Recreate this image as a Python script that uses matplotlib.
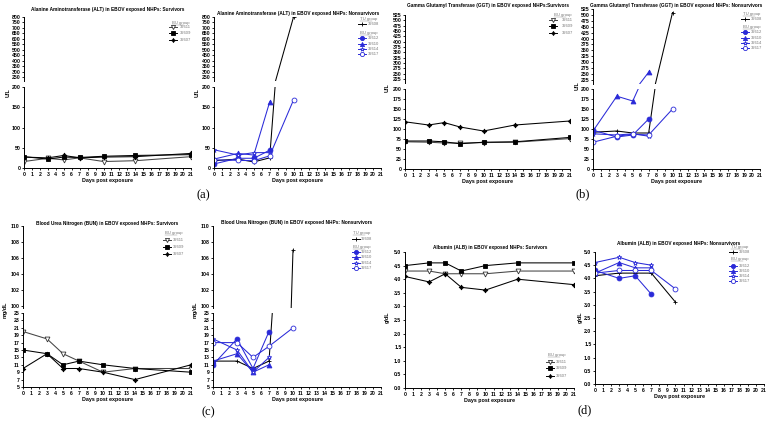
import numpy as np
import matplotlib
matplotlib.use('Agg')
import matplotlib.pyplot as plt
from matplotlib.lines import Line2D

plt.rcParams['font.family'] = ['Liberation Sans', 'DejaVu Sans']

W, H = 770, 424

days_s = [0, 3, 5, 7, 10, 14, 21]
days_n = [0, 3, 5, 7, 10]

# survivors: 32611, 32609, 32607
alt_s_32611 = [16, 24, 20, 25, 16, 18, 28]
alt_s_32609 = [28, 22, 27, 26, 29, 31, 33]
alt_s_32607 = [27, 25, 31, 25, 27, 28, 36]
ggt_s_32611 = [68, 67, 65, 65, 66, 67, 76]
ggt_s_32609 = [70, 70, 68, 63, 67, 68, 79]
ggt_s_32607 = [118, 110, 116, 105, 95, 110, 120]
bun_s_32611 = [20, 18, 14, 12, 9, 10, 10]
bun_s_32609 = [15, 14, 11, 12, 11, 10, 9]
bun_s_32607 = [10, 14, 10, 10, 9, 7, 11]
alb_s_32611 = [4.3, 4.3, 4.2, 4.2, 4.2, 4.3, 4.3]
alb_s_32609 = [4.5, 4.6, 4.6, 4.3, 4.5, 4.6, 4.6]
alb_s_32607 = [4.1, 3.9, 4.2, 3.7, 3.6, 4.0, 3.8]

# nonsurvivors: 32608 (TU), 32612, 32610, 32614, 32617 (BU)
alt_n_32608 = [18, 22, 15, 25, 800]
alt_n_32612 = [10, 24, 24, 44]
alt_n_32610 = [22, 36, 32, 163]
alt_n_32614 = [45, 32, 38, 38]
alt_n_32617 = [20, 19, 18, 30, 168]
ggt_n_32608 = [92, 95, 90, 90, 510]
ggt_n_32612 = [97, 80, 85, 125]
ggt_n_32610 = [95, 182, 170, 258]
ggt_n_32614 = [88, 85, 88, 82]
ggt_n_32617 = [67, 82, 87, 85, 150]
bun_n_32608 = [12, 12, 10, 12, 107]
bun_n_32612 = [11, 18, 10, 20]
bun_n_32610 = [12, 14, 9, 11]
bun_n_32614 = [18, 15, 9, 13]
bun_n_32617 = [17, 17, 13, 16, 21]
alb_n_32608 = [4.1, 4.2, 4.2, 4.2, 3.1]
alb_n_32612 = [4.3, 4.0, 4.1, 3.4]
alb_n_32610 = [4.2, 4.6, 4.4, 4.4]
alb_n_32614 = [4.6, 4.8, 4.6, 4.5]
alb_n_32617 = [4.2, 4.3, 4.3, 4.3, 3.6]

BLUE = '#2a2ad8'
styles = {
    '32611': dict(color='#444444', marker='v', mfc='white', mec='#333333'),
    '32609': dict(color='black', marker='s', mfc='black', mec='black'),
    '32607': dict(color='black', marker=(4, 1, 0), mfc='black', mec='black'),
    '32608': dict(color='black', marker='+', mfc='black', mec='black'),
    '32612': dict(color=BLUE, marker='o', mfc=BLUE, mec=BLUE),
    '32610': dict(color=BLUE, marker='^', mfc=BLUE, mec=BLUE),
    '32614': dict(color=BLUE, marker='*', mfc='white', mec=BLUE),
    '32617': dict(color=BLUE, marker='o', mfc='white', mec=BLUE),
}
surv_ids = ['32611', '32609', '32607']
non_ids = ['32608', '32612', '32610', '32614', '32617']

fig = plt.figure(figsize=(W / 100, H / 100), dpi=100)
fig.patch.set_facecolor('white')
FS = 3.7
MS = 3.5


def fx(x):
    return x / W


def fy(y):
    return 1 - y / H


def make_ax(l, r, t, b):
    ax = fig.add_axes([fx(l), fy(b), fx(r) - fx(l), (b - t) / H])
    for s in ['top', 'right']:
        ax.spines[s].set_visible(False)
    for s in ['left', 'bottom']:
        ax.spines[s].set_linewidth(0.7)
    ax.tick_params(labelsize=FS, width=0.6, length=1.6, pad=1)
    return ax


def draw(ax, ids, days, series):
    for sid, vals in zip(ids, series):
        st = styles[sid]
        ax.plot(days[:len(vals)], vals, color=st['color'], lw=0.75,
                marker=st['marker'], mfc=st['mfc'], mec=st['mec'],
                ms=MS, mew=0.6)


def xaxis(ax):
    ax.set_xlim(0, 21)
    ax.set_xticks(range(22))
    ax.set_xticklabels([str(i) for i in range(22)], fontsize=FS, fontweight='bold')
    ax.set_xlabel('Days post exposure', fontsize=3.9, fontweight='bold', labelpad=1)


def yticks(ax, ticks, fmt='{:g}'):
    ax.set_yticks(ticks)
    ax.set_yticklabels([fmt.format(t) for t in ticks], fontsize=FS, fontweight='bold')


def broken(l, r, ut, ub, lt, lb, ulim, llim, uticks, lticks, ids, days, series):
    up = make_ax(l, r, ut, ub)
    lo = make_ax(l, r, lt, lb)
    for ax, lim in [(up, ulim), (lo, llim)]:
        draw(ax, ids, days, series)
        ax.set_ylim(*lim)
    up.spines['bottom'].set_visible(False)
    up.set_xlim(0, 21)
    up.set_xticks([])
    yticks(up, uticks)
    yticks(lo, lticks)
    xaxis(lo)
    lo.set_ylim(*llim)
    return up, lo


def legend(mx, tx, rows):
    for kind, y, txt in rows:
        if kind == 'head':
            fig.text(fx(tx - 8), fy(y), txt, fontsize=3.0, color='#777777',
                     va='center', ha='left')
            fig.add_artist(Line2D([fx(tx - 8), fx(tx + 4)], [fy(y + 2)] * 2,
                                  color='#888888', lw=0.3))
        else:
            st = styles[txt]
            fig.add_artist(Line2D([fx(mx - 4), fx(mx), fx(mx + 4)], [fy(y)] * 3,
                                  color=st['color'], lw=0.7, marker=st['marker'],
                                  mfc=st['mfc'], mec=st['mec'], ms=3, mew=0.6,
                                  markevery=[1]))
            fig.text(fx(tx), fy(y), txt, fontsize=3.0, color='#777777',
                     va='center', ha='left')


def title(x, y, txt):
    fig.text(fx(x), fy(y), txt, fontsize=3.4, fontweight='bold', ha='center', va='center')


def ylabel(x, y, txt):
    fig.text(fx(x), fy(y), txt, fontsize=3.9, fontweight='bold', rotation=90,
             ha='center', va='center')


# (a) ALT
broken(24, 191, 17, 81, 87, 168, (215, 800), (0, 200),
       list(range(250, 801, 50)), [0, 50, 100, 150, 200],
       surv_ids, days_s, [alt_s_32611, alt_s_32609, alt_s_32607])
title(108, 10, 'Alanine Aminotransferase (ALT) in EBOV exposed NHPs: Survivors')
ylabel(8, 93, 'U/L')
legend(173, 180, [('head', 23, 'BU group'), ('s', 27, '32611'),
                  ('s', 33, '32609'), ('s', 40, '32607')])

broken(214, 381, 17, 81, 87, 168, (215, 800), (0, 200),
       list(range(250, 801, 50)), [0, 50, 100, 150, 200],
       non_ids, days_n, [alt_n_32608, alt_n_32612, alt_n_32610, alt_n_32614, alt_n_32617])
title(298, 13, 'Alanine Aminotransferase (ALT) in EBOV exposed NHPs: Nonsurvivors')
ylabel(197, 93, 'U/L')
legend(362, 368, [('head', 19, 'TU group'), ('s', 24, '32608'), ('head', 33, 'BU group'),
                  ('s', 38, '32612'), ('s', 44, '32610'), ('s', 49, '32614'),
                  ('s', 54, '32617')])

# (b) GGT
broken(405, 570, 15, 83, 89, 169, (206, 525), (0, 200),
       list(range(225, 526, 25)), list(range(0, 201, 25)),
       surv_ids, days_s, [ggt_s_32611, ggt_s_32609, ggt_s_32607])
title(488, 5, 'Gamma Glutamyl Transferase (GGT) in EBOV exposed NHPs:Survivors')
ylabel(387, 88, 'U/L')
legend(553, 562, [('head', 15, 'BU group'), ('s', 20, '32611'),
                  ('s', 26, '32609'), ('s', 33, '32607')])

broken(593, 760, 9, 84, 89, 169, (208, 525), (0, 200),
       list(range(225, 526, 25)), list(range(0, 201, 25)),
       non_ids, days_n, [ggt_n_32608, ggt_n_32612, ggt_n_32610, ggt_n_32614, ggt_n_32617])
title(676, 5, 'Gamma Glutamyl Transferase (GGT) in EBOV exposed NHPs: Nonsurvivors')
ylabel(577, 86, 'U/L')
legend(745, 751, [('head', 14, 'TU group'), ('s', 19, '32608'), ('head', 27, 'BU group'),
                  ('s', 32, '32612'), ('s', 38, '32610'), ('s', 43, '32614'),
                  ('s', 48, '32617')])

# (c) BUN
broken(23, 191, 226, 308, 313, 387, (99.8, 110), (5, 25),
       list(range(100, 111, 2)), list(range(5, 26, 2)),
       surv_ids, days_s, [bun_s_32611, bun_s_32609, bun_s_32607])
title(107, 223, 'Blood Urea Nitrogen (BUN) in EBOV exposed NHPs: Survivors')
ylabel(5, 310, 'mg/dL')
legend(167, 173, [('head', 233, 'BU group'), ('s', 240, '32611'),
                  ('s', 247, '32609'), ('s', 254, '32607')])

broken(213, 381, 226, 308, 313, 387, (99.8, 110), (5, 25),
       list(range(100, 111, 2)), list(range(5, 26, 2)),
       non_ids, days_n, [bun_n_32608, bun_n_32612, bun_n_32610, bun_n_32614, bun_n_32617])
title(297, 222, 'Blood Urea Nitrogen (BUN) in EBOV exposed NHPs: Nonsurvivors')
ylabel(195, 310, 'mg/dL')
legend(356, 361, [('head', 233, 'TU group'), ('s', 239, '32608'), ('head', 247, 'BU group'),
                  ('s', 252, '32612'), ('s', 257, '32610'), ('s', 263, '32614'),
                  ('s', 268, '32617')])

# (d) ALB
ax = make_ax(405, 574, 252, 388)
draw(ax, surv_ids, days_s, [alb_s_32611, alb_s_32609, alb_s_32607])
ax.set_ylim(0, 5)
yticks(ax, list(np.arange(0, 5.01, 0.5)), '{:.1f}')
xaxis(ax)
title(490, 248, 'Albumin (ALB) in EBOV exposed NHPs: Survivors')
ylabel(387, 317, 'g/dL')
legend(550, 556, [('head', 355, 'BU group'), ('s', 362, '32611'),
                  ('s', 368, '32609'), ('s', 376, '32607')])

ax = make_ax(595, 764, 252, 384)
draw(ax, non_ids, days_n, [alb_n_32608, alb_n_32612, alb_n_32610, alb_n_32614, alb_n_32617])
ax.set_ylim(0, 5)
yticks(ax, list(np.arange(0, 5.01, 0.5)), '{:.1f}')
xaxis(ax)
title(679, 244, 'Albumin (ALB) in EBOV exposed NHPs: Nonsurvivors')
ylabel(580, 317, 'g/dL')
legend(733, 739, [('head', 247, 'TU group'), ('s', 252, '32608'), ('head', 259, 'BU group'),
                  ('s', 266, '32612'), ('s', 271, '32610'), ('s', 276, '32614'),
                  ('s', 281, '32617')])

for x, y, t in [(203, 195, '(a)'), (583, 194, '(b)'), (208, 412, '(c)'), (585, 410, '(d)')]:
    fig.text(fx(x), fy(y), t, fontsize=9, family='Liberation Serif', ha='center', va='center')

fig.savefig('out.png', dpi=100)
